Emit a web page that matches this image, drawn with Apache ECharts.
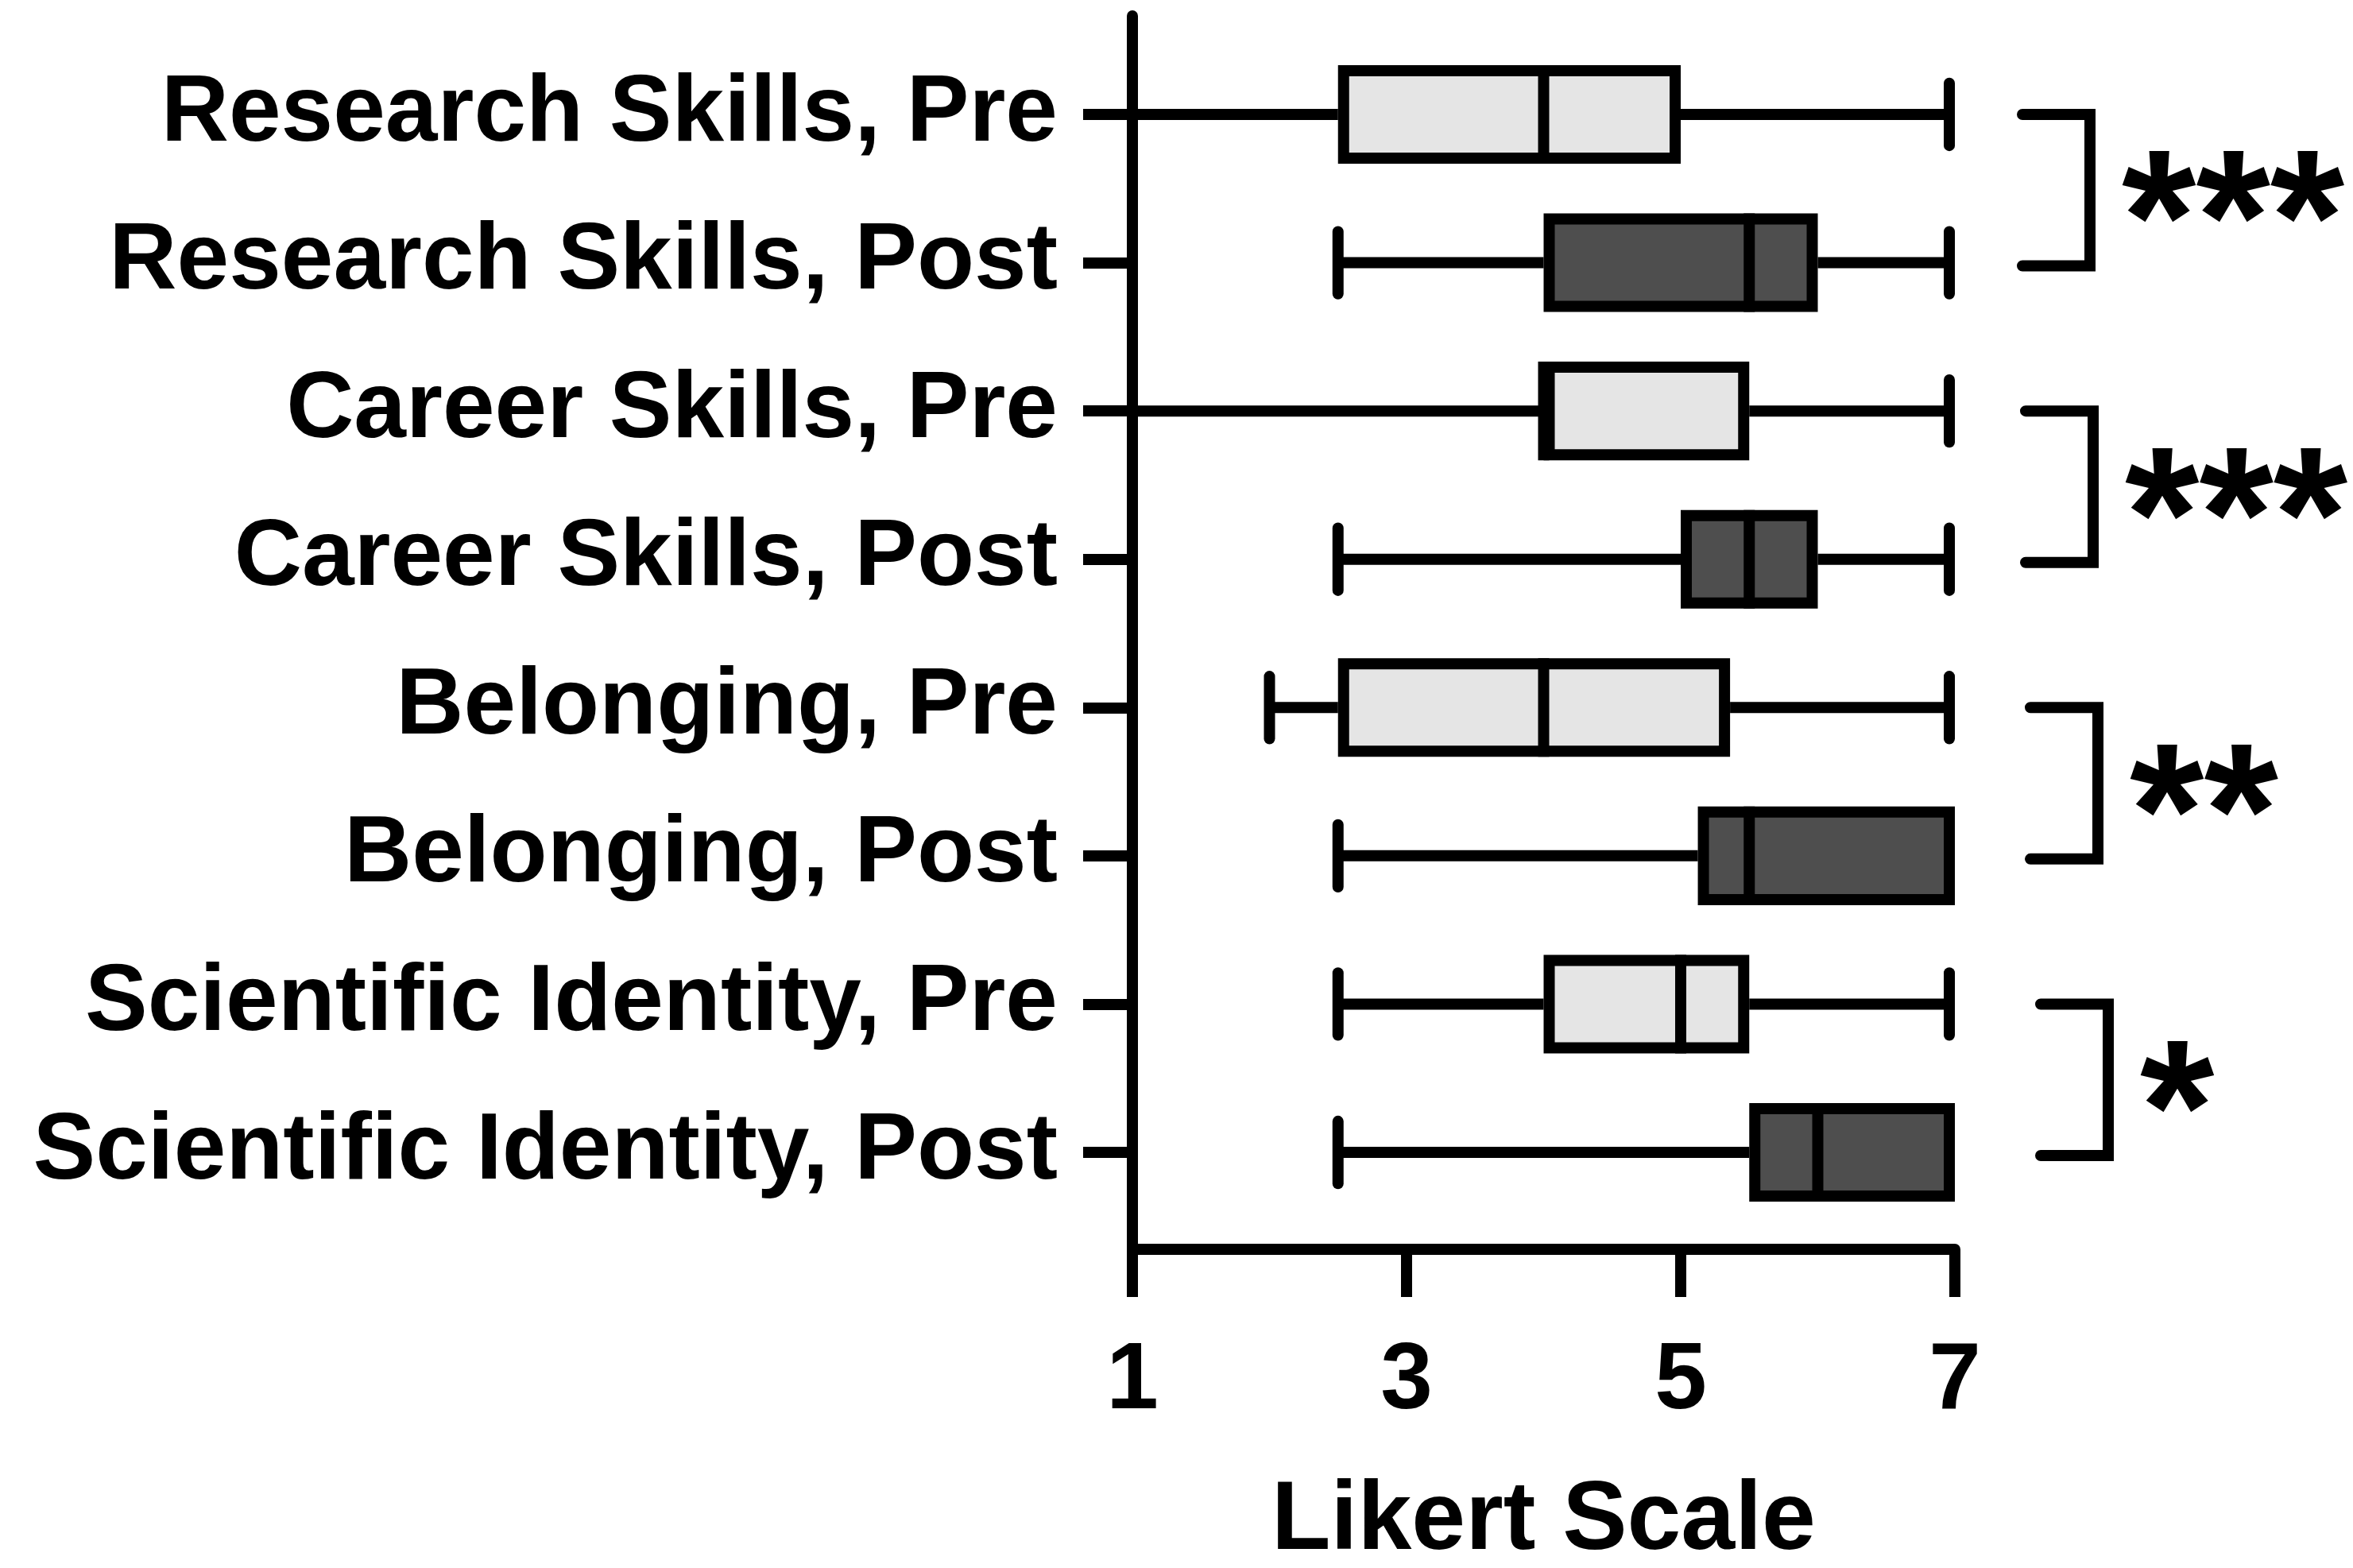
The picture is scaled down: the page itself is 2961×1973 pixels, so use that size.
<!DOCTYPE html>
<html><head><meta charset="utf-8">
<script src="https://cdn.jsdelivr.net/npm/echarts@6/dist/echarts.min.js"></script>
<style>html,body{margin:0;padding:0;background:#fff}#c{width:2961px;height:1973px}</style>
</head><body><div id="c"></div>
<script>
// ---- data ----
const categories = ['Research Skills, Pre','Research Skills, Post','Career Skills, Pre','Career Skills, Post','Belonging, Pre','Belonging, Post','Scientific Identity, Pre','Scientific Identity, Post'];
const whiskerLow  = [1,   2.5, 1,   2.5, 2,    2.5,   2.5, 2.5];
const q1          = [2.5, 4,   4,   5,   2.5,  5.125, 4,   5.5];
const median      = [4,   5.5, 4,   5.5, 4,    5.5,   5,   6];
const q3          = [5,   6,   5.5, 6,   5.36, 7,     5.5, 7];
const whiskerHigh = [7,   7,   7,   7,   7,    7,     7,   7];
const xTicks = [1, 3, 5, 7];
const comparisonFrom = [0, 2, 4, 6];
const comparisonTo   = [1, 3, 5, 7];
const significance   = ['***', '***', '**', '*'];

// ---- style ----
const FONT = '"Liberation Sans", Arial, Helvetica, sans-serif';
const STAR_FONT = '"Liberation Sans", Arial, sans-serif';
const LW = 14;
const PRE_FILL = '#e5e5e5';
const POST_FILL = '#4e4e4e';
const BRACKET_SHIFT = [0, 4, 10, 23];

const chart = echarts.init(document.getElementById('c'), null, {renderer: 'canvas', devicePixelRatio: 1});

function renderBox(params, api) {
  const i = api.value(0);
  const lo = api.value(1), a = api.value(2), m = api.value(3), b = api.value(4), hi = api.value(5);
  const band = api.size([0, 1])[1];
  const yc = api.coord([a, i])[1];
  const xLo = api.coord([lo, i])[0], xA = api.coord([a, i])[0], xM = api.coord([m, i])[0];
  const xB = api.coord([b, i])[0], xHi = api.coord([hi, i])[0];
  const boxH = band * 0.665;
  const capH = band * 0.42;
  const fill = /Pre$/.test(categories[i]) ? PRE_FILL : POST_FILL;
  const stroke = {stroke: '#000', lineWidth: LW};
  return {
    type: 'group',
    children: [
      {type: 'line', shape: {x1: xLo, y1: yc, x2: xA, y2: yc}, style: stroke},
      {type: 'line', shape: {x1: xB, y1: yc, x2: xHi, y2: yc}, style: stroke},
      {type: 'line', shape: {x1: xLo, y1: yc - capH / 2, x2: xLo, y2: yc + capH / 2}, style: {stroke: '#000', lineWidth: LW, lineCap: 'round'}},
      {type: 'line', shape: {x1: xHi - LW / 2, y1: yc - capH / 2, x2: xHi - LW / 2, y2: yc + capH / 2}, style: {stroke: '#000', lineWidth: LW, lineCap: 'round'}},
      {type: 'rect', shape: {x: xA + LW / 2, y: yc - boxH / 2 + LW / 2, width: xB - xA - LW, height: boxH - LW}, style: {fill: fill, stroke: '#000', lineWidth: LW}},
      {type: 'line', shape: {x1: xM, y1: yc - boxH / 2, x2: xM, y2: yc + boxH / 2}, style: stroke}
    ]
  };
}

function renderBracket(params, api) {
  const a = api.value(0), b = api.value(1), xv = api.value(2);
  const p0 = api.coord([xv, a]), p1 = api.coord([xv, b]);
  const s = BRACKET_SHIFT[params.dataIndex];
  const xl = p0[0] + 85 + s, xr = p0[0] + 170 + s;
  const mid = (p0[1] + p1[1]) / 2;
  return {
    type: 'group',
    children: [
      {type: 'polyline', shape: {points: [[xl, p0[1]], [xr, p0[1]], [xr, p1[1] + 4], [xl, p1[1] + 4]]},
       style: {stroke: '#000', lineWidth: LW, fill: null, lineCap: 'round', lineJoin: 'miter'}},
      {type: 'text', x: xr + 40, y: mid + 52,
       style: {text: significance[params.dataIndex], fontSize: 240, fontWeight: 'bold', fontFamily: STAR_FONT, fill: '#000', align: 'left', verticalAlign: 'middle'}}
    ]
  };
}

const option = {
  backgroundColor: '#fff',
  animation: false,
  grid: [
    {left: 1425, right: 501, top: 20, bottom: 401, outerBoundsMode: 'none', containLabel: false},
    {left: 1425, right: 501, top: 50.7, bottom: 429.7, outerBoundsMode: 'none', containLabel: false}
  ],
  xAxis: [
    {gridIndex: 0, type: 'value', min: 1, max: 7,
     name: 'Likert Scale', nameLocation: 'middle', nameGap: 282,
     nameTextStyle: {fontSize: 122, fontWeight: 'bold', color: '#000', fontFamily: FONT},
     axisLine: {show: true, onZero: false, lineStyle: {color: '#000', width: LW}},
     axisTick: {show: true, length: 60, customValues: xTicks, lineStyle: {color: '#000', width: LW}},
     axisLabel: {show: true, margin: 108, customValues: xTicks, fontSize: 118, fontWeight: 'bold', color: '#000', fontFamily: FONT},
     splitLine: {show: false}},
    {gridIndex: 1, type: 'value', min: 1, max: 7, show: false}
  ],
  yAxis: [
    {gridIndex: 0, type: 'value', min: 0, max: 1,
     axisLine: {show: true, onZero: false, lineStyle: {color: '#000', width: LW}},
     axisTick: {show: false}, axisLabel: {show: false}, splitLine: {show: false}},
    {gridIndex: 1, type: 'category', data: categories, inverse: true, boundaryGap: true,
     axisLine: {show: false},
     axisTick: {show: true, alignWithLabel: true, length: 62, lineStyle: {color: '#000', width: LW}},
     axisLabel: {margin: 94, fontSize: 118, fontWeight: 'bold', color: '#000', fontFamily: FONT},
     splitLine: {show: false}}
  ],
  series: [
    {type: 'custom', xAxisIndex: 1, yAxisIndex: 1, clip: false,
     renderItem: renderBox,
     encode: {x: [1, 2, 3, 4, 5], y: 0},
     data: categories.map((c, i) => [i, whiskerLow[i], q1[i], median[i], q3[i], whiskerHigh[i]])},
    {type: 'custom', xAxisIndex: 1, yAxisIndex: 1, clip: false,
     renderItem: renderBracket,
     encode: {x: 2, y: [0, 1]},
     data: comparisonFrom.map((f, k) => [f, comparisonTo[k], 7])}
  ]
};
chart.setOption(option);
</script></body></html>
